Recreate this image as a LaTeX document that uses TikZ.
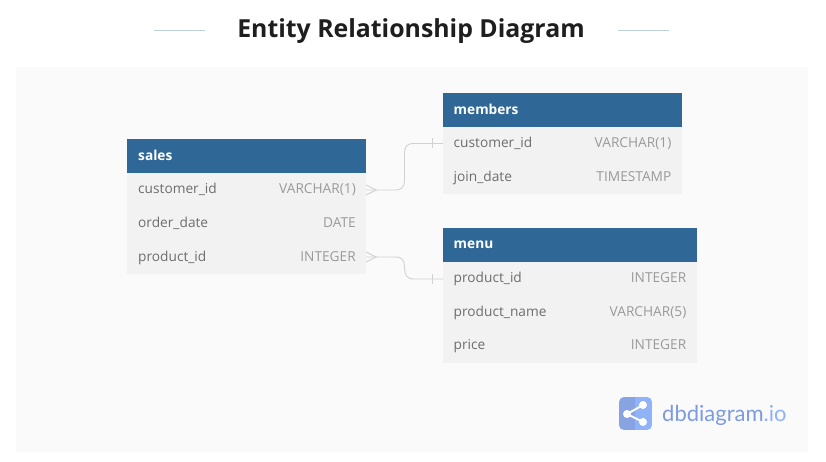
\documentclass[tikz,border=0pt]{standalone}
\usepackage{fontspec}
\setmainfont{Open Sans}
\newfontfamily\logofont{Lato}
\definecolor{hdr}{HTML}{2F6896}
\definecolor{bodyc}{HTML}{F2F2F2}
\definecolor{panel}{HTML}{FAFAFA}
\definecolor{fname}{HTML}{6E6E6E}
\definecolor{ftype}{HTML}{9A9A9A}
\definecolor{conn}{HTML}{D2D2D2}
\definecolor{rulec}{HTML}{BFD3DF}
\definecolor{titlec}{HTML}{1E1E1E}
\definecolor{logoa}{HTML}{87A3E2}
\definecolor{logob}{HTML}{8FB2F8}
\definecolor{logoc}{HTML}{7C9BE0}
\begin{document}
\begin{tikzpicture}[x=1pt,y=-1pt,
  hdrbox/.style={draw=none,fill=hdr,inner sep=0pt,anchor=north west},
  bodybox/.style={draw=none,fill=bodyc,inner sep=0pt,anchor=north west},
  htext/.style={text=white,font=\fontsize{13.7}{16}\selectfont\bfseries,anchor=base west,inner sep=0pt},
  ftext/.style={text=fname,font=\fontsize{13.7}{16}\selectfont,anchor=base west,inner sep=0pt},
  ttext/.style={text=ftype,font=\fontsize{13.7}{16}\selectfont,anchor=base east,inner sep=0pt},
  link/.style={draw=conn,line width=0.9pt},
  titlerule/.style={draw=rulec,line width=0.8pt},
]
\useasboundingbox (0,0) rectangle (826,462);
\fill[white] (0,0) rectangle (826,462);
\fill[panel] (16,67) rectangle (808,452);
% title
\node[anchor=base,inner sep=0pt,text=titlec,font=\fontsize{24.85}{30}\selectfont\bfseries] (title) at (411,38) {Entity Relationship Diagram};
\coordinate (ra1) at (154,30.5); \coordinate (ra2) at (205,30.5);
\coordinate (rb1) at (618,30.5); \coordinate (rb2) at (669,30.5);
\draw[titlerule] (ra1) -- (ra2);
\draw[titlerule] (rb1) -- (rb2);
% sales
\node[bodybox,minimum width=239pt,minimum height=100.5pt] (salesb) at (127,173) {};
\node[hdrbox,minimum width=239pt,minimum height=34pt] (salesh) at (127,139) {};
\node[htext] (salest) at (138,161) {sales};
\node[ftext] (s1) at (138,194) {customer\_id};
\node[ttext] (s1t) at (356,194) {VARCHAR(1)};
\node[ftext] (s2) at (138,227) {order\_date};
\node[ttext] (s2t) at (356,227) {DATE};
\node[ftext] (s3) at (138,261) {product\_id};
\node[ttext] (s3t) at (356,261) {INTEGER};
% members
\node[bodybox,minimum width=239pt,minimum height=67pt] (memb) at (443,127) {};
\node[hdrbox,minimum width=239pt,minimum height=34pt] (memh) at (443,93) {};
\node[htext] (memt) at (453.5,115) {members};
\node[ftext] (m1) at (453.5,148) {customer\_id};
\node[ttext] (m1t) at (671.5,148) {VARCHAR(1)};
\node[ftext] (m2) at (453.5,181.5) {join\_date};
\node[ttext] (m2t) at (671.5,181.5) {TIMESTAMP};
% menu
\node[bodybox,minimum width=254pt,minimum height=101pt] (menb) at (443,261.5) {};
\node[hdrbox,minimum width=254pt,minimum height=34pt] (menh) at (443,227.5) {};
\node[htext] (ment) at (453.5,248) {menu};
\node[ftext] (n1) at (453.5,282) {product\_id};
\node[ttext] (n1t) at (686.5,282) {INTEGER};
\node[ftext] (n2) at (453.5,316) {product\_name};
\node[ttext] (n2t) at (686.5,316) {VARCHAR(5)};
\node[ftext] (n3) at (453.5,349) {price};
\node[ttext] (n3t) at (686.5,349) {INTEGER};
% connectors
\coordinate (c1a) at (366,190);
\coordinate (c1b) at (443,143.5);
\coordinate (c2a) at (366,257);
\coordinate (c2b) at (443,279);
\draw[link] (c1a) -- (395,190) .. controls (402,190) and (404.5,187) .. (404.5,180)
  -- (404.5,153) .. controls (404.5,146.5) and (407,143.5) .. (414,143.5) -- (c1b);
\draw[link] (c2a) -- (395,257) .. controls (402,257) and (404.5,260) .. (404.5,267)
  .. controls (404.5,275.5) and (407,279) .. (414,279) -- (c2b);
% crow's feet and bars
\draw[link] (366,185) -- (376,190) -- (366,195);
\draw[link] (366,252) -- (376,257) -- (366,262);
\draw[link] (432,138.5) -- (432,148.5);
\draw[link] (432,274) -- (432,284);
% logo
\begin{scope}
\clip[rounded corners=5pt] (619,397) rectangle (652,430);
\fill[logoa] (619,397) rectangle (635,430);
\fill[logob] (635,397) rectangle (652,430);
\end{scope}
\coordinate (lg1) at (627,414); \coordinate (lg2) at (643,405); \coordinate (lg3) at (643,422);
\draw[white,line width=2pt] (lg2) -- (lg1) -- (lg3);
\fill[white] (lg1) circle (4pt) (lg2) circle (4pt) (lg3) circle (4pt);
\node[anchor=base west,inner sep=0pt,font=\logofont\fontsize{22}{26}\selectfont] (logotext) at (662,421.5) {\textcolor{logoc}{dbdiagram}\textcolor{logob}{.io}};
\end{tikzpicture}
\end{document}
